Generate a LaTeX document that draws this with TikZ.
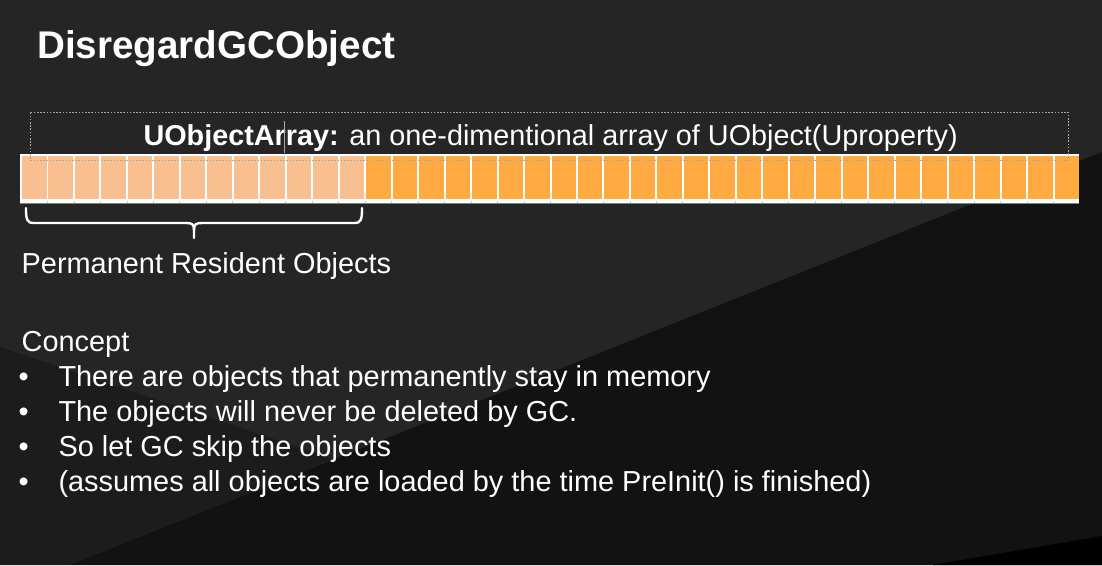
\documentclass[tikz,border=0pt]{standalone}
\usepackage{fontspec}
\setmainfont{Liberation Sans}
\definecolor{bgmain}{HTML}{252525}
\definecolor{bgwedge}{HTML}{1C1C1C}
\definecolor{bgdark}{HTML}{121212}
\definecolor{peach}{HTML}{F8C090}
\definecolor{amber}{HTML}{FFAB42}
\definecolor{frameline}{HTML}{A8A8A8}
\begin{document}
\begin{tikzpicture}[x=1pt,y=-1pt,
  txt/.style={text=white, inner sep=0pt, anchor=base west},
  body/.style={txt, font=\fontsize{28.9}{34}\selectfont},
  cellbox/.style={draw=none, inner sep=0pt, minimum width=24.5pt, minimum height=43.3pt},
  bracepen/.style={draw=white, line width=2.4pt, line cap=round, line join=round}]
\useasboundingbox (0,0) rectangle (1102,565);

% slide background with its diagonal shading
\fill[bgmain] (0,0) rectangle (1102,565);
\fill[bgwedge] (0,347) -- (333,459) -- (70,565) -- (0,565) -- cycle;
\fill[bgdark] (1102,152) -- (70,565) -- (1102,565) -- cycle;
\fill[black] (1102,536) -- (933,565) -- (1102,565) -- cycle;

% title
\node[txt, font=\fontsize{38.6}{44}\selectfont\bfseries] (title) at (37,58.3) {DisregardGCObject};

% array strip: white frame, grey bottom edge, 40 cells
\fill[white] (20,154) rectangle (1079,203.3);
\draw[gray, line width=1pt] (20,203.8) -- (1079,203.8);
\foreach \i in {0,...,39}{
  \pgfmathsetmacro{\cx}{22+\i*26.475+12.25}
  \ifnum\i<13
    \node[cellbox, fill=peach] (c\i) at (\cx,177.65) {};
  \else
    \node[cellbox, fill=amber] (c\i) at (\cx,177.65) {};
  \fi
}
\foreach \i in {1,...,39}{
  \pgfmathsetmacro{\tx}{21+\i*26.475}
  \draw[black!20, line width=0.8pt] (\tx,200.5) -- (\tx,203.3);
}

% dotted text frame and caption
\draw[frameline, line width=0.8pt, dash pattern=on 1.6pt off 1.6pt] (30.3,112.3) rectangle (1068,160.3);
\node[txt, font=\fontsize{28.8}{34}\selectfont] (caption) at (143.3,145.7) {\textbf{UObjectArray:} an one-dimentional array of UObject(Uproperty)};
\draw[frameline, line width=0.8pt] (284,121) -- (284,153);

% brace under the resident cells
\coordinate (bl) at (26,208);
\coordinate (br) at (362,208);
\coordinate (bt) at (194,238);
\draw[bracepen] (bl) .. controls (26,220) and (27,223) .. (34,223) -- (186,223)
  .. controls (192,223) and (194,224) .. (194,230) -- (bt);
\draw[bracepen] (br) .. controls (362,220) and (361,223) .. (354,223) -- (202,223)
  .. controls (196,223) and (194,224) .. (194,230);
\node[body] (resident) at (21.5,273.3) {Permanent Resident Objects};

% concept list
\node[body] (concept) at (21.5,351.7) {Concept};
\foreach \y/\t [count=\k] in {386.7/There are objects that permanently stay in memory,
  421.7/The objects will never be deleted by GC.,
  456.7/So let GC skip the objects,
  491.2/(assumes all objects are loaded by the time PreInit() is finished)}{
  \node[body] (dot\k) at (18.5,\y) {\textbullet};
  \node[body] (item\k) at (58.3,\y) {\t};
}
\end{tikzpicture}
\end{document}
